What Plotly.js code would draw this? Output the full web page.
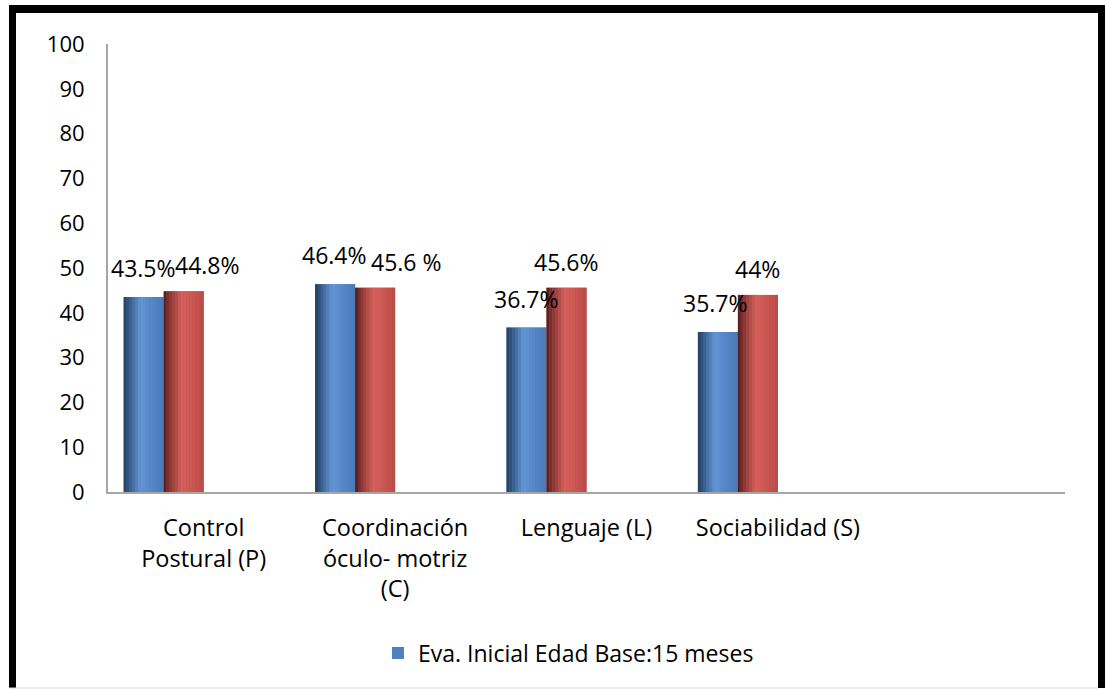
<!DOCTYPE html>
<html>
<head>
<meta charset="utf-8">
<script src="https://cdn.plot.ly/plotly-3.0.1.min.js"></script>
<style>
  html, body { margin: 0; padding: 0; background: #ffffff; }
  #chart { width: 1105px; height: 690px; }
</style>
</head>
<body>
<div id="chart"></div>
<script>
// ---- data ----
var categories = ['Control<br>Postural (P)', 'Coordinación<br>óculo- motriz<br>(C)', 'Lenguaje (L)', 'Sociabilidad (S)', ''];
var seriesNames = ['Eva. Inicial Edad Base:15 meses', 'Eva. Final'];
var inicialValues = [43.5, 46.4, 36.7, 35.7];
var finalValues = [44.8, 45.6, 45.6, 44.0];
var inicialLabels = ['43.5%', '46.4%', '36.7%', '35.7%'];
var finalLabels = ['44.8%', '45.6 %', '45.6%', '44%'];
var yTicks = [0, 10, 20, 30, 40, 50, 60, 70, 80, 90, 100];

// ---- styles ----
var FONT = 'Open Sans, Noto Sans, sans-serif';
var barW = 0.209;            // width of one bar, in category units
var groupStart = -0.418;     // left edge of the group relative to category centre
var blueStops = [[0, '#223c5e'], [0.12, '#30547f'], [0.42, '#6496d4'], [0.7, '#5686c7'], [1, '#4b79b6']];
var redStops  = [[0, '#4a1b1a'], [0.12, '#7e302e'], [0.45, '#d6605c'], [0.7, '#cc5854'], [1, '#b84b48']];
var STRIPES = 14;
var finalLabelShift = [24, 31, 0, 0];
var inicialLabelShift = [0, -1, 0, -2];

function hexToRgb(h) { h = h.replace('#', ''); return [parseInt(h.substr(0,2),16), parseInt(h.substr(2,2),16), parseInt(h.substr(4,2),16)]; }
function colorAt(stops, t) {
  for (var i = 0; i < stops.length - 1; i++) {
    if (t >= stops[i][0] && t <= stops[i+1][0]) {
      var a = hexToRgb(stops[i][1]), b = hexToRgb(stops[i+1][1]);
      var f = (t - stops[i][0]) / (stops[i+1][0] - stops[i][0]);
      return 'rgb(' + [0,1,2].map(function(k){ return Math.round(a[k] + (b[k]-a[k])*f); }).join(',') + ')';
    }
  }
  return stops[stops.length-1][1];
}

var xIdx = inicialValues.map(function(_, i){ return i; });
var traces = [];

function addSeries(values, name, baseColor, stops, offset, showLegend) {
  traces.push({
    type: 'bar', x: xIdx, y: values, name: name, showlegend: showLegend,
    offset: offset, width: barW, marker: { color: baseColor, line: { width: 0 } },
    hoverinfo: 'y'
  });
  var sw = barW / STRIPES;
  for (var s = 0; s < STRIPES; s++) {
    traces.push({
      type: 'bar', x: xIdx, y: values, showlegend: false, hoverinfo: 'skip',
      offset: offset + s * sw, width: sw * 1.02,
      marker: { color: colorAt(stops, (s + 0.5) / STRIPES), line: { width: 0 } }
    });
  }
}
addSeries(inicialValues, seriesNames[0], '#4f81bd', blueStops, groupStart, true);
addSeries(finalValues, seriesNames[1], '#c0504d', redStops, groupStart + barW, false);

var LABEL_SIZE = 23;
var annotations = [];
inicialValues.forEach(function(v, i) {
  annotations.push({ x: i + groupStart + barW/2, y: v, xref: 'x', yref: 'y', text: inicialLabels[i],
    showarrow: false, xanchor: 'center', yanchor: 'middle', yshift: 29, xshift: inicialLabelShift[i],
    font: { family: FONT, size: LABEL_SIZE, color: '#000' } });
});
finalValues.forEach(function(v, i) {
  annotations.push({ x: i + groupStart + 1.5*barW, y: v, xref: 'x', yref: 'y', text: finalLabels[i],
    showarrow: false, xanchor: 'center', yanchor: 'middle', yshift: 26, xshift: finalLabelShift[i],
    font: { family: FONT, size: LABEL_SIZE, color: '#000' } });
});

// frame around the whole picture (paper coords computed from plot area 108..1065 x 44..492)
function px(x) { return (x - 108) / 957; }
function py(y) { return (492 - y) / 448; }
var shapes = [
  { type: 'line', xref: 'paper', yref: 'paper', x0: px(12.5), x1: px(12.5), y0: py(5), y1: py(688), line: { color: '#000', width: 7 } },
  { type: 'line', xref: 'paper', yref: 'paper', x0: px(9), x1: px(1105), y0: py(9), y1: py(9), line: { color: '#000', width: 8 } },
  { type: 'line', xref: 'paper', yref: 'paper', x0: px(1101.5), x1: px(1101.5), y0: py(5), y1: py(688), line: { color: '#000', width: 7 } },
  { type: 'line', xref: 'paper', yref: 'paper', x0: px(9), x1: px(1098), y0: py(688), y1: py(688), line: { color: '#d9d9d9', width: 1 } }
];

var layout = {
  width: 1105, height: 690,
  margin: { l: 108, r: 40, t: 44, b: 198 },
  paper_bgcolor: '#ffffff', plot_bgcolor: '#ffffff',
  barmode: 'overlay',
  font: { family: FONT, color: '#000' },
  showlegend: true,
  legend: { orientation: 'h', x: px(378), y: py(653), xanchor: 'left', yanchor: 'middle',
            font: { family: FONT, size: 23, color: '#000' }, bgcolor: 'rgba(0,0,0,0)' },
  xaxis: {
    range: [-0.5, 4.5], tickvals: [0, 1, 2, 3, 4], ticktext: categories,
    showline: true, linecolor: '#a6a6a6', linewidth: 2, showgrid: false, zeroline: false,
    ticks: '', ticklabelstandoff: 14, tickfont: { family: FONT, size: 23.5, color: '#000' }, fixedrange: true
  },
  yaxis: {
    range: [0, 100], tickvals: yTicks, showline: true, linecolor: '#a6a6a6', linewidth: 2,
    showgrid: false, zeroline: false, ticks: '', ticklabelstandoff: 17,
    tickfont: { family: FONT, size: 22, color: '#000' }, fixedrange: true
  },
  annotations: annotations,
  shapes: shapes
};

Plotly.newPlot('chart', traces, layout, { displayModeBar: false, staticPlot: true });
</script>
</body>
</html>
